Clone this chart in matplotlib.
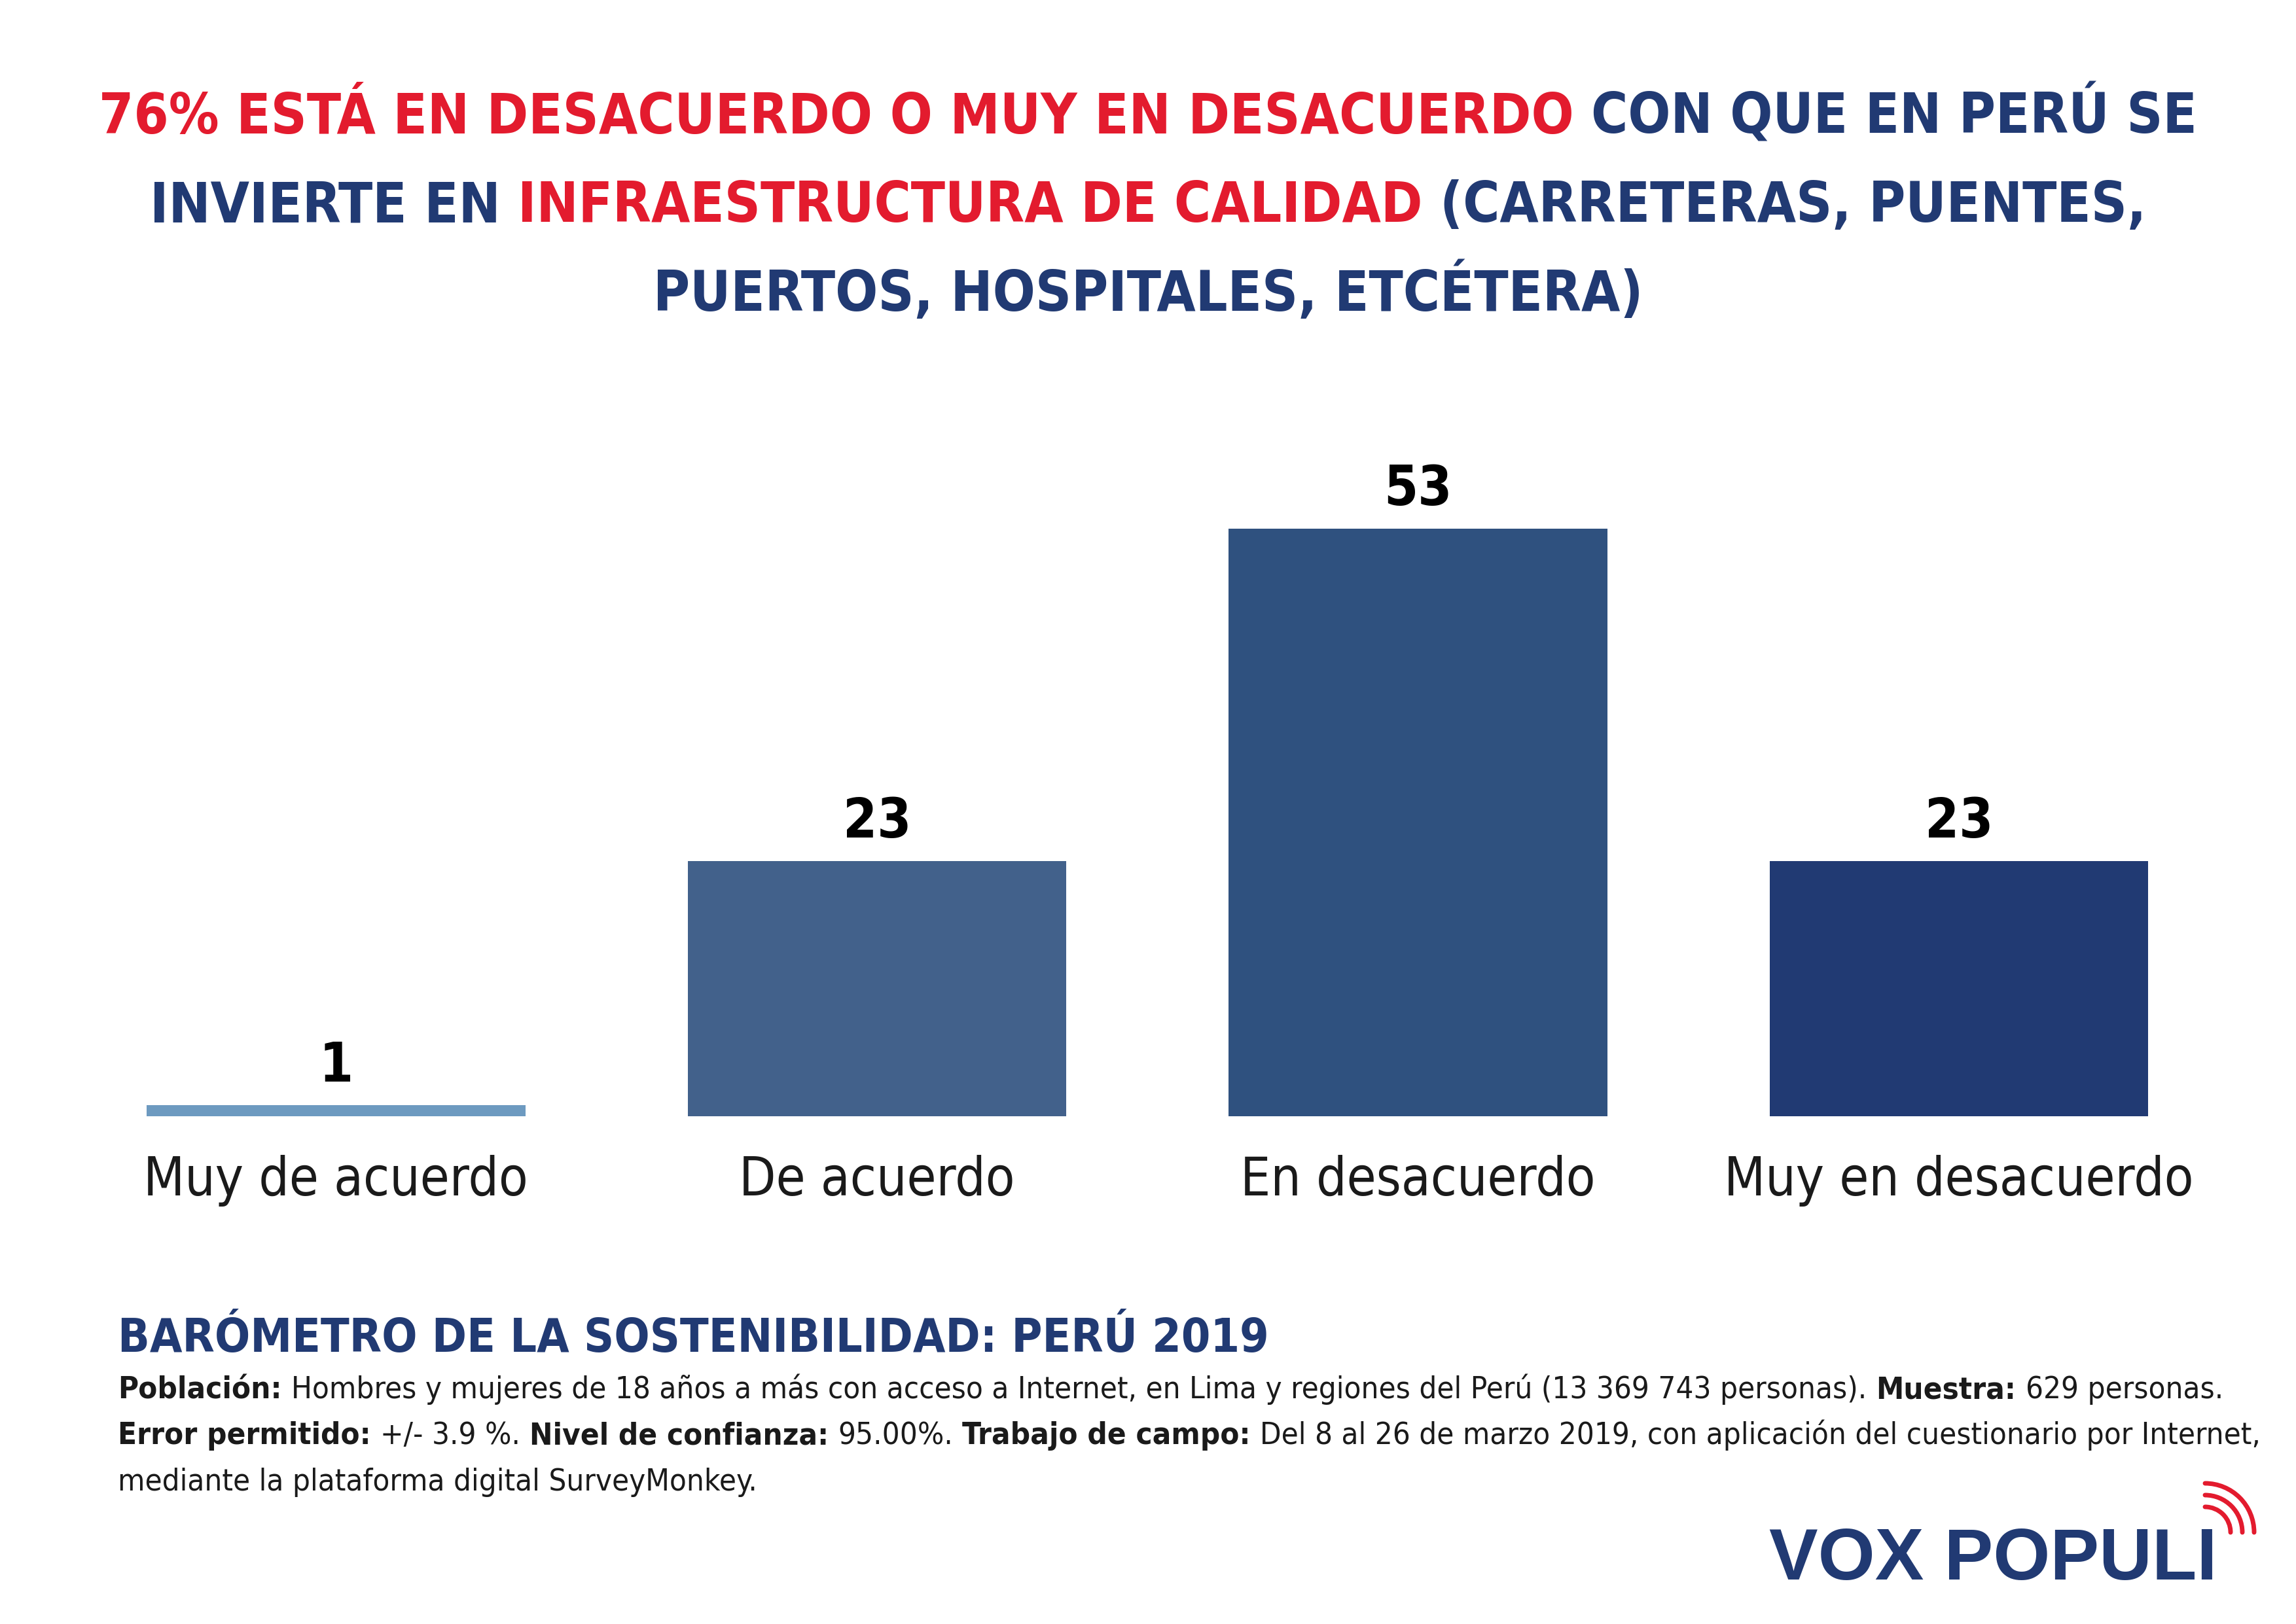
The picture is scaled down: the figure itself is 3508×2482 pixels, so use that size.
import matplotlib
matplotlib.use("Agg")
import matplotlib.pyplot as plt
import matplotlib.transforms as mtransforms
from matplotlib import font_manager as fm
from matplotlib.patches import Arc

# data
categories = ["Muy de acuerdo", "De acuerdo", "En desacuerdo", "Muy en desacuerdo"]
values = [1, 23, 53, 23]
bar_colors = ["#6d9ac0", "#42618b", "#2f517f", "#213a73"]

RED = "#e31b2e"
NAVY = "#213a73"
INK = "#1a1a1a"

title_lines = [
    [("76% ESTÁ EN DESACUERDO O MUY EN DESACUERDO", RED), ("CON QUE EN PERÚ SE", NAVY)],
    [("INVIERTE EN", NAVY), ("INFRAESTRUCTURA DE CALIDAD", RED),
     ("(CARRETERAS, PUENTES,", NAVY)],
    [("PUERTOS, HOSPITALES, ETCÉTERA)", NAVY)],
]

footer_title = "BARÓMETRO DE LA SOSTENIBILIDAD: PERÚ 2019"
footer_lines = [
    [("Población:", "bold"),
     ("Hombres y mujeres de 18 años a más con acceso a Internet, en Lima y regiones "
      "del Perú (13 369 743 personas).", "normal"),
     ("Muestra:", "bold"), ("629 personas.", "normal")],
    [("Error permitido:", "bold"), ("+/- 3.9 %.", "normal"),
     ("Nivel de confianza:", "bold"), ("95.00%.", "normal"),
     ("Trabajo de campo:", "bold"),
     ("Del 8 al 26 de marzo 2019, con aplicación del cuestionario por Internet,", "normal")],
    [("mediante la plataforma digital SurveyMonkey.", "normal")],
]

# pick a narrow face if one is around
fonts = [(f.name, f.stretch) for f in fm.fontManager.ttflist]
FAM, STRETCH = "Liberation Sans", "normal"
if any(n == "Liberation Sans Narrow" for n, _ in fonts):
    FAM = "Liberation Sans Narrow"
else:
    for cand in ["Roboto", "Noto Sans", "DejaVu Sans", "Open Sans"]:
        if any(n == cand and s in ("condensed", "semi-condensed", "extra-condensed")
               for n, s in fonts):
            FAM, STRETCH = cand, "condensed"
            break

W, H = 3508, 2482
fig = plt.figure(figsize=(W / 100, H / 100), dpi=100, facecolor="white")
renderer = fig.canvas.get_renderer()


def fy(px):
    return 1 - px / H


def txt(x, y, s, fs, wt="normal", **kw):
    return fig.text(x, y, s, fontsize=fs, fontweight=wt, family=FAM,
                    fontstretch=STRETCH, **kw)


def width(s, fs, wt="normal"):
    t = txt(0, 0, s, fs, wt)
    w = t.get_window_extent(renderer).width
    t.remove()
    return w


def seg_layout(segs, fs):
    # segs: (text, color, weight); one space between segments
    ws = [width(t, fs, wt) for t, _, wt in segs]
    sp = [width("X X", fs, wt) - width("XX", fs, wt) for _, _, wt in segs]
    return ws, sp, sum(ws) + sum(sp[:-1])


def fit(segs, target, fs0=60):
    return fs0 * target / seg_layout(segs, fs0)[2]


def rich_line(segs, y, fs, x=0.5, ha="center"):
    ws, sp, total = seg_layout(segs, fs)
    cur = x * W - (total / 2 if ha == "center" else 0)
    for (t, c, wt), w, s in zip(segs, ws, sp):
        txt(cur / W, y, t, fs, wt, color=c, va="baseline", ha="left")
        cur += w + s


# title
t_segs = [[(t, c, "bold") for t, c in line] for line in title_lines]
fs_title = min(fit(t_segs[0], 3211), 80)
for segs, base in zip(t_segs, [204, 339, 475]):
    rich_line(segs, fy(base), fs_title)

# bars
ax = fig.add_axes([0.0285, 0.3127, 0.9425, 0.4095])
x = range(len(categories))
bars = ax.bar(x, values, width=0.70, color=bar_colors)
ax.set_xlim(-0.5, 3.5)
ax.set_ylim(0, 60)
ax.axis("off")

fs_val = 60
for rect, v in zip(bars, values):
    ax.annotate(f"{v}", (rect.get_x() + rect.get_width() / 2, rect.get_height()),
                xytext=(0, 26), textcoords="offset points", ha="center", va="baseline",
                fontsize=fs_val, fontweight="bold", family=FAM, fontstretch=STRETCH,
                color="black")

fs_cat = min(fit([(categories[3], INK, "normal")], 718), 72)
trans = mtransforms.blended_transform_factory(ax.transData, fig.transFigure)
for i, cat in enumerate(categories):
    ax.text(i, fy(1827), cat, transform=trans, ha="center", va="baseline",
            fontsize=fs_cat, family=FAM, fontstretch=STRETCH, color=INK)

# footer
fs_ft = min(fit([(footer_title, NAVY, "bold")], 1760), 63)
txt(180 / W, fy(2066), footer_title, fs_ft, "bold", color=NAVY, va="baseline", ha="left")
f_segs = [[(t, INK, wt) for t, wt in line] for line in footer_lines]
fs_body = min(fit(f_segs[0], 3213), 42)
for segs, base in zip(f_segs, [2137, 2207, 2278]):
    rich_line(segs, fy(base), fs_body, x=180 / W, ha="left")

# logo
logo = fig.text(3387 / W, fy(2414), "VOX POPULI", fontsize=86, fontweight="bold",
                family="Liberation Sans", color=NAVY, ha="right", va="baseline")
lw = logo.get_window_extent(renderer).width
logo.set_fontsize(86 * min(1, 684 / lw))

lax = fig.add_axes([0, 0, 1, 1])
lax.set_xlim(0, W)
lax.set_ylim(H, 0)
lax.axis("off")
lax.set_zorder(-1)
for r in [39, 57, 75]:
    lax.add_patch(Arc((3369, 2342), 2 * r, 2 * r, theta1=270, theta2=360,
                      color=RED, lw=5, capstyle="round"))

fig.savefig("out.png", dpi=100, facecolor="white")
